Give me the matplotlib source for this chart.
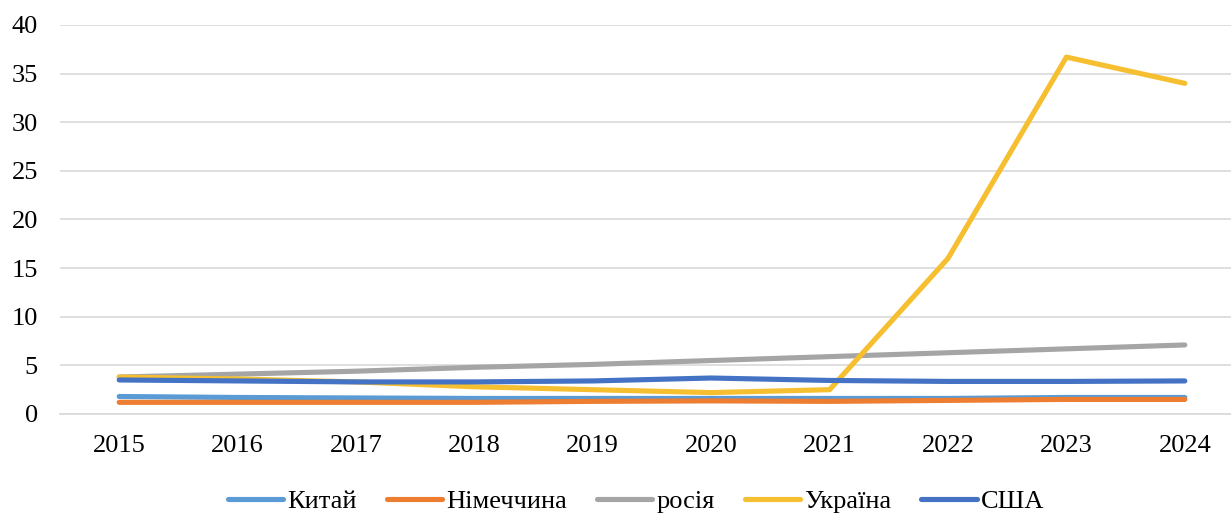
import matplotlib
matplotlib.use("Agg")
import matplotlib.pyplot as plt

years = ["2015", "2016", "2017", "2018", "2019", "2020", "2021", "2022", "2023", "2024"]
china = [1.8, 1.7, 1.65, 1.6, 1.6, 1.6, 1.6, 1.6, 1.7, 1.7]
germany = [1.2, 1.2, 1.2, 1.2, 1.3, 1.35, 1.3, 1.4, 1.5, 1.5]
russia = [3.8, 4.1, 4.4, 4.8, 5.1, 5.5, 5.9, 6.3, 6.7, 7.1]
ukraine = [3.8, 3.6, 3.3, 2.8, 2.5, 2.2, 2.5, 16.0, 36.7, 34.0]
usa = [3.5, 3.4, 3.3, 3.3, 3.4, 3.7, 3.45, 3.35, 3.35, 3.4]

series = [
    ("Китай", china, "#5B9BD5"),
    ("Німеччина", germany, "#ED7D31"),
    ("росія", russia, "#A5A5A5"),
    ("Україна", ukraine, "#F6BF2F"),
    ("США", usa, "#4472C4"),
]

plt.rcParams["font.family"] = ["Liberation Serif", "DejaVu Serif"]

fig = plt.figure(figsize=(12.31, 5.14), dpi=100)
ax = fig.add_axes([60 / 1231, 100 / 514, 1184 / 1231, 389 / 514])

x = list(range(len(years)))
for name, vals, col in series:
    ax.plot(x, vals, color=col, lw=3.7, solid_capstyle="round", solid_joinstyle="round", label=name)

ax.set_xlim(-0.5, len(years) - 0.5)
ax.set_ylim(0, 40)
ax.set_yticks(range(0, 41, 5))
ax.set_xticks(x)
ax.set_xticklabels(years)
ax.grid(axis="y", color="#D9D9D9", lw=1.2)
ax.set_axisbelow(True)
for s in ["top", "right", "left"]:
    ax.spines[s].set_visible(False)
ax.spines["bottom"].set_color("#D9D9D9")
ax.spines["bottom"].set_linewidth(1.2)
ax.tick_params(axis="both", length=0, labelsize=19, colors="black")
ax.tick_params(axis="y", pad=16)
ax.tick_params(axis="x", pad=15)

leg = fig.legend(loc="center", bbox_to_anchor=(636 / 1231, 1 - 501 / 514), ncol=5,
                 frameon=False, fontsize=19, handlelength=2.1, handletextpad=0.15,
                 columnspacing=1.14, borderpad=0, borderaxespad=0)
for line in leg.get_lines():
    line.set_linewidth(3.7)
    line.set_solid_capstyle("round")

fig.savefig("out.png", dpi=100)
